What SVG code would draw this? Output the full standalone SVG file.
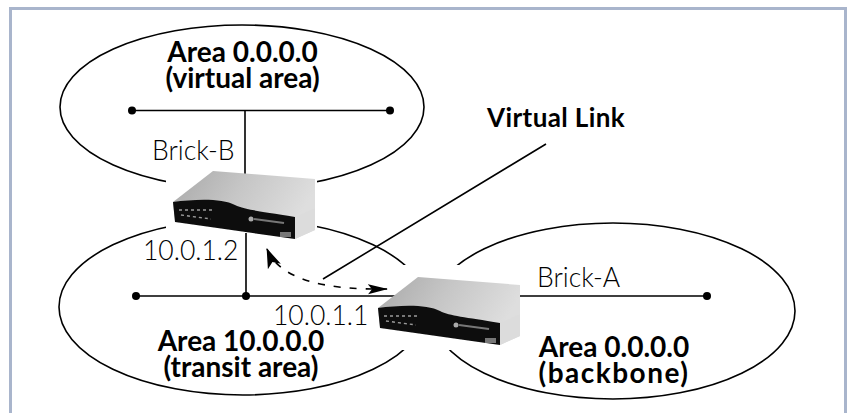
<svg xmlns="http://www.w3.org/2000/svg" width="849" height="413" viewBox="0 0 849 413">
<style>
.l{fill:none;stroke:#000;stroke-width:1.6}
.d{fill:#000}
.t{font-family:"Lato","Liberation Sans",sans-serif;font-size:26.500px;font-weight:300;fill:#000}
.b{font-family:"Lato","Liberation Sans",sans-serif;font-size:28px;font-weight:700;fill:#000;text-anchor:middle}
.halo{fill:#fff}
</style>
<defs>
<linearGradient id="g" x1="0" y1="0" x2="1" y2="0.3"><stop offset="0" stop-color="#a8a8a8"/><stop offset="0.5" stop-color="#c6c6c6"/><stop offset="1" stop-color="#dedede"/></linearGradient>
<filter id="s" x="-5%" y="-5%" width="110%" height="110%"><feGaussianBlur stdDeviation="0.6"/></filter>
<marker id="ae" markerWidth="20" markerHeight="12" refX="19" refY="6" orient="auto" markerUnits="userSpaceOnUse"><path d="M0 1L20 6L0 11L4 6Z"/></marker>
<marker id="as" markerWidth="20" markerHeight="16" refX="1" refY="8" orient="auto" markerUnits="userSpaceOnUse"><path d="M20 1L0 8L20 15L15 8Z"/></marker>
<g id="brick" filter="url(#s)">
<path d="M213 171L315 179L315 230L295 239L175 220L173 202Z" fill="url(#g)"/>
<path d="M295 217L315 208V230L295 239Z" fill="#dcdcdc"/>
<path d="M173 202C195 199 222 198 235 205C245 210 260 211 295 217L295 239L175 222Z" fill="#0e0e0e"/>
<path d="M179 210h33M181 215l30 4" stroke="#9a9a9a" stroke-width="1.4" stroke-dasharray="3 3" fill="none"/>
<path d="M254 219l30 4" stroke="#777" stroke-width="2" fill="none"/>
<circle cx="251" cy="219" r="2.500" fill="#aaa"/>
<rect x="280" y="232" width="11" height="5" fill="#777"/>
</g>
</defs>
<rect x="10.500" y="8.500" width="835" height="420" fill="#fff" stroke="#a9b5cc" stroke-width="3"/>
<g id="connectors">
<ellipse class="l" cx="242" cy="107" rx="182" ry="82"/>
<ellipse class="l" cx="243" cy="307" rx="184" ry="88"/>
<ellipse class="l" cx="613" cy="311" rx="182" ry="88"/>
</g>
<rect class="halo" x="166" y="163" width="151" height="80"/>
<rect class="halo" x="371" y="265" width="151" height="85"/>
<g id="wires">
<path class="l" d="M132 110.500H390M245 110V175M246 233V296M136 296H400M518 296H707M323 279L546 144"/>
<circle class="d" cx="132" cy="110.500" r="4"/><circle class="d" cx="390" cy="110.500" r="4"/>
<circle class="d" cx="136" cy="296" r="4"/><circle class="d" cx="246" cy="296" r="4"/><circle class="d" cx="707" cy="296" r="4"/>
<path d="M267 249C280 280 325 290 387 289" fill="none" stroke="#000" stroke-width="1.6" stroke-dasharray="7 9" marker-start="url(#as)" marker-end="url(#ae)"/>
</g>
<g id="brick-b"><use href="#brick"/></g>
<g id="brick-a"><use href="#brick" x="205" y="106"/></g>
<g id="labels">
<text class="b" x="242.500" y="62">Area 0.0.0.0</text>
<text class="b" x="242.500" y="88">(virtual area)</text>
<text class="b" style="text-anchor:start;font-size:26px;letter-spacing:.4px" x="487" y="127">Virtual Link</text>
<text class="t" x="152" y="160">Brick-B</text>
<text class="t" x="143" y="260">10.0.1.2</text>
<text class="t" x="273" y="325">10.0.1.1</text>
<text class="t" x="537" y="287">Brick-A</text>
<text class="b" x="241" y="351">Area 10.0.0.0</text>
<text class="b" x="241" y="377">(transit area)</text>
<text class="b" x="614" y="357">Area 0.0.0.0</text>
<text class="b" style="letter-spacing:1.500px" x="614" y="383">(backbone)</text>
</g>
</svg>
